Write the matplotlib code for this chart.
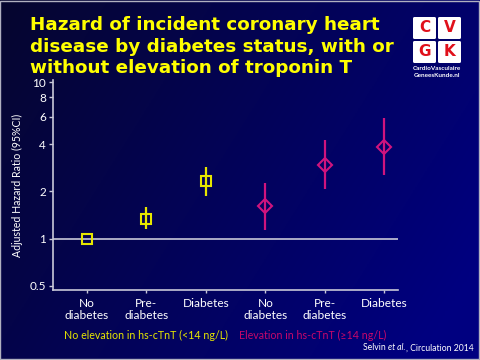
import numpy as np
import matplotlib
matplotlib.use("Agg")
import matplotlib.pyplot as plt
from matplotlib.patches import FancyBboxPatch, Rectangle
from matplotlib.ticker import FixedLocator, NullLocator

# data
categories = ["No\ndiabetes", "Pre-\ndiabetes", "Diabetes",
              "No\ndiabetes", "Pre-\ndiabetes", "Diabetes"]
hr_no_elev = [1.0, 1.34, 2.33]
lo_no_elev = [1.0, 1.15, 1.87]
hi_no_elev = [1.0, 1.60, 2.88]
hr_elev = [1.61, 2.95, 3.87]
lo_elev = [1.14, 2.08, 2.56]
hi_elev = [2.27, 4.24, 5.93]
y_ticks = [0.5, 1, 2, 4, 6, 8, 10]

YELLOW = "#e6e600"
MAGENTA = "#d0147e"
AXCOL = "#c8c8d8"
FONT = ["Lato", "DejaVu Sans"]

fig = plt.figure(figsize=(4.8, 3.6), dpi=100)

# background gradient
bg = fig.add_axes([0, 0, 1, 1], zorder=-10)
xx, yy = np.meshgrid(np.linspace(0, 1, 200), np.linspace(0, 1, 150))
t = np.clip(0.75 * xx + 0.35 * yy, 0, 1)
c0 = np.array([6, 6, 46]) / 255
c1 = np.array([0, 0, 128]) / 255
img = c0[None, None, :] * (1 - t[..., None]) + c1[None, None, :] * t[..., None]
bg.imshow(img, aspect="auto", extent=[0, 1, 0, 1], origin="upper")
bg.add_patch(Rectangle((0.001, 0.002), 0.997, 0.995, fill=False,
                       edgecolor="#b0b0c0", lw=1.0, transform=bg.transAxes))
bg.set_xlim(0, 1)
bg.set_ylim(0, 1)
bg.axis("off")

# title
fig.text(30 / 480, 1 - 16 / 360,
         "Hazard of incident coronary heart\ndisease by diabetes status, with or\nwithout elevation of troponin T",
         color="#ffff00", fontsize=13.2, fontweight="bold", family="DejaVu Sans",
         va="top", ha="left", linespacing=1.26)

# logo
lg = fig.add_axes([411 / 480, 1 - 78 / 360, 52 / 480, 64 / 360])
lg.set_xlim(0, 52)
lg.set_ylim(0, 64)
lg.axis("off")
for (x0, y0, ch) in [(2, 39, "C"), (27, 39, "V"), (2, 15, "G"), (27, 15, "K")]:
    lg.add_patch(FancyBboxPatch((x0 + 1.5, y0 + 1.5), 20, 19,
                                boxstyle="round,pad=1.5", fc="white", ec="none"))
    lg.text(x0 + 11.5, y0 + 11, ch, color="#e0101a", fontsize=11,
            fontweight="bold", ha="center", va="center", family="DejaVu Sans")
lg.text(26, 9, "CardioVasculaire", color="white", fontsize=4.6,
        ha="center", va="center", family=FONT, fontweight="bold")
lg.text(26, 2.5, "GeneesKunde.nl", color="white", fontsize=4.6,
        ha="center", va="center", family=FONT, fontweight="bold")

# main axes
ax = fig.add_axes([53 / 480, 1 - 290 / 360, 345 / 480, 210 / 360])
ax.patch.set_alpha(0)
ax.set_yscale("log")
ax.set_ylim(0.47, 10.3)
ax.set_xlim(0.43, 6.23)

ax.axhline(1, color=AXCOL, lw=1.2, zorder=1)

x1 = np.arange(1, 4)
x2 = np.arange(4, 7)
ax.vlines(x1, lo_no_elev, hi_no_elev, color=YELLOW, lw=1.6, zorder=2)
ax.plot(x1, hr_no_elev, "s", ms=7, mfc="none", mec=YELLOW, mew=1.5,
        zorder=3, ls="none")
ax.vlines(x2, lo_elev, hi_elev, color=MAGENTA, lw=1.6, zorder=2)
ax.plot(x2, hr_elev, "D", ms=7.5, mfc="none", mec=MAGENTA, mew=1.5,
        zorder=3, ls="none")

for s in ["top", "right"]:
    ax.spines[s].set_visible(False)
for s in ["left", "bottom"]:
    ax.spines[s].set_color(AXCOL)
    ax.spines[s].set_linewidth(1.2)

ax.yaxis.set_major_locator(FixedLocator(y_ticks))
ax.yaxis.set_minor_locator(NullLocator())
ax.set_yticklabels([str(v) for v in y_ticks], family=FONT)
ax.set_xticks(np.arange(1, 7))
ax.set_xticklabels(categories, family=FONT, linespacing=1.1)
ax.tick_params(axis="y", colors=AXCOL, labelsize=8.5, length=3, width=1, pad=2)
ax.tick_params(axis="x", colors=AXCOL, labelsize=8.6, length=2, width=1, pad=4)
for lab in ax.get_xticklabels() + ax.get_yticklabels():
    lab.set_color("white")
ax.set_ylabel("Adjusted Hazard Ratio (95%CI)", color="white", fontsize=7.6,
              family=FONT, labelpad=5)

fig.text(146 / 480, 1 - 335 / 360, "No elevation in hs-cTnT (<14 ng/L)",
         color=YELLOW, fontsize=7.7, ha="center", va="center", family=FONT)
fig.text(313 / 480, 1 - 335 / 360, "Elevation in hs-cTnT (\u226514 ng/L)",
         color="#c8086a", fontsize=7.7, ha="center", va="center", family=FONT)

# citation with italic "et al."
c1t = fig.text(363 / 480, 1 - 348 / 360, "Selvin ", color="white",
               fontsize=6.2, ha="left", va="center", family=FONT)
c2t = fig.text(0, 0, "et al.", color="white", fontsize=6.2, style="italic",
               family=FONT, va="center", ha="left")
c3t = fig.text(0, 0, ", Circulation 2014", color="white", fontsize=6.2,
               family=FONT, va="center", ha="left")
fig.canvas.draw()
r = fig.canvas.get_renderer()
inv = fig.transFigure.inverted()
e1 = c1t.get_window_extent(r)
c2t.set_position((inv.transform((e1.x1, 0))[0], 1 - 348 / 360))
e2 = c2t.get_window_extent(r)
c3t.set_position((inv.transform((e2.x1, 0))[0], 1 - 348 / 360))

fig.savefig("out.png", dpi=100)
